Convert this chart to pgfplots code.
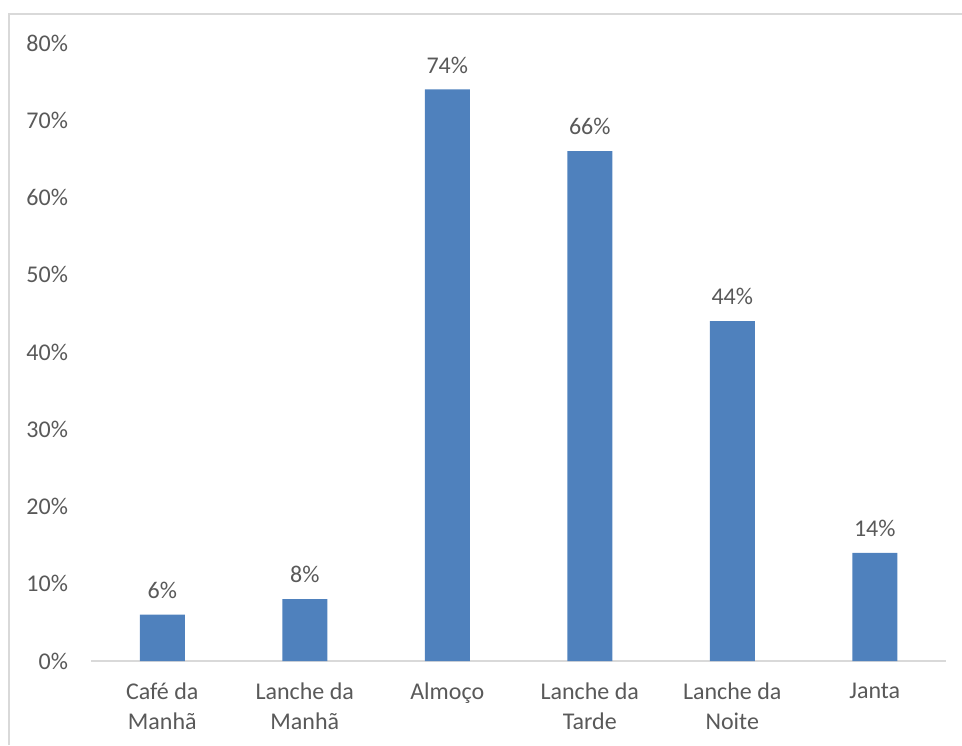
\documentclass[border=0pt]{standalone}
\usepackage{fontspec}
\setmainfont{Carlito}
\usepackage{pgfplots}
\pgfplotsset{compat=1.18}
\definecolor{barblue}{HTML}{4F81BD}
\definecolor{txtgray}{HTML}{595959}
\definecolor{framegray}{HTML}{D9D9D9}
\begin{document}
\begin{tikzpicture}
\useasboundingbox (0,0) rectangle (481pt,372.5pt);
\draw[framegray, line width=1pt] (4.5pt,0pt) -- (4.5pt,365.5pt) -- (481pt,365.5pt);
\begin{axis}[
  at={(45.5pt,42pt)}, anchor=south west,
  scale only axis, width=427.5pt, height=309pt,
  xmin=-0.5, xmax=5.5, ymin=0, ymax=80,
  axis x line*=bottom, axis y line*=left,
  x axis line style={draw=framegray, line width=0.8pt},
  y axis line style={draw=none},
  ybar, bar width=22.5pt,
  xtick={0,1,2,3,4,5},
  xticklabels={{Café da\\Manhã},{Lanche da\\Manhã},{Almoço},{Lanche da\\Tarde},{Lanche da\\Noite},{Janta}},
  xticklabel style={align=center, text=txtgray, font=\fontsize{12}{15}\selectfont, yshift=-7.5pt},
  ytick={0,10,...,80},
  yticklabel={\pgfmathprintnumber{\tick}\%},
  yticklabel style={text=txtgray, font=\fontsize{12}{14.5}\selectfont, xshift=-8pt},
  /pgf/number format/assume math mode=true,
  major tick length=0pt,
  tick style={draw=none},
  nodes near coords={\pgfmathprintnumber{\pgfplotspointmeta}\%},
  nodes near coords style={text=txtgray, font=\fontsize{12}{14.5}\selectfont, yshift=4.5pt},
  clip=false,
]
\addplot[fill=barblue, draw=none] coordinates {(0,6) (1,8) (2,74) (3,66) (4,44) (5,14)};
\end{axis}
\end{tikzpicture}
\end{document}
